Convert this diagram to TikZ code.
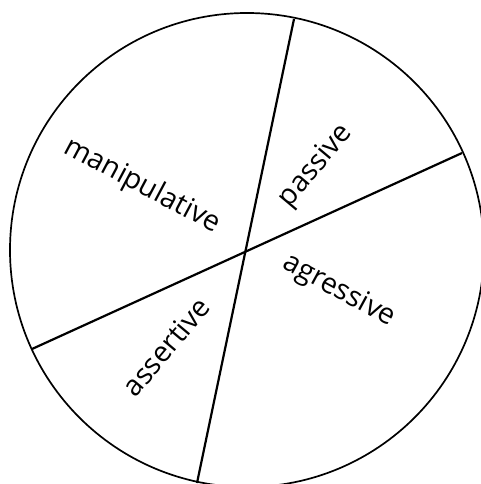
\documentclass[tikz,border=0pt]{standalone}
\usepackage{fontspec}
\setmainfont{Open Sans}
\begin{document}
\begin{tikzpicture}[x=1pt,y=-1pt,
  lbl/.style={font=\fontsize{28.5}{28.5}\selectfont, inner sep=0pt},
  divider/.style={line width=2.2pt},
  rim/.style={line width=1.7pt}]
\useasboundingbox (0,0) rectangle (481,484);
\begin{scope}
\clip (0,0) rectangle (481,484);
\coordinate (c) at (247,250);
\draw[rim] (c) circle (237);
\coordinate (t1) at (294,19);
\coordinate (b1) at (197,483);
\coordinate (l2) at (32,349);
\coordinate (r2) at (462,153);
\draw[divider] (t1) -- (b1);
\draw[divider] (l2) -- (r2);
\end{scope}
\node[lbl, rotate=-28] (manip) at (142,186) {manipulative};
\node[lbl, rotate=50] (pass) at (316,166) {passive};
\node[lbl, rotate=-28.5] (agr) at (339,291) {agressive};
\node[lbl, rotate=50] (ass) at (166,347) {assertive};
\end{tikzpicture}
\end{document}
